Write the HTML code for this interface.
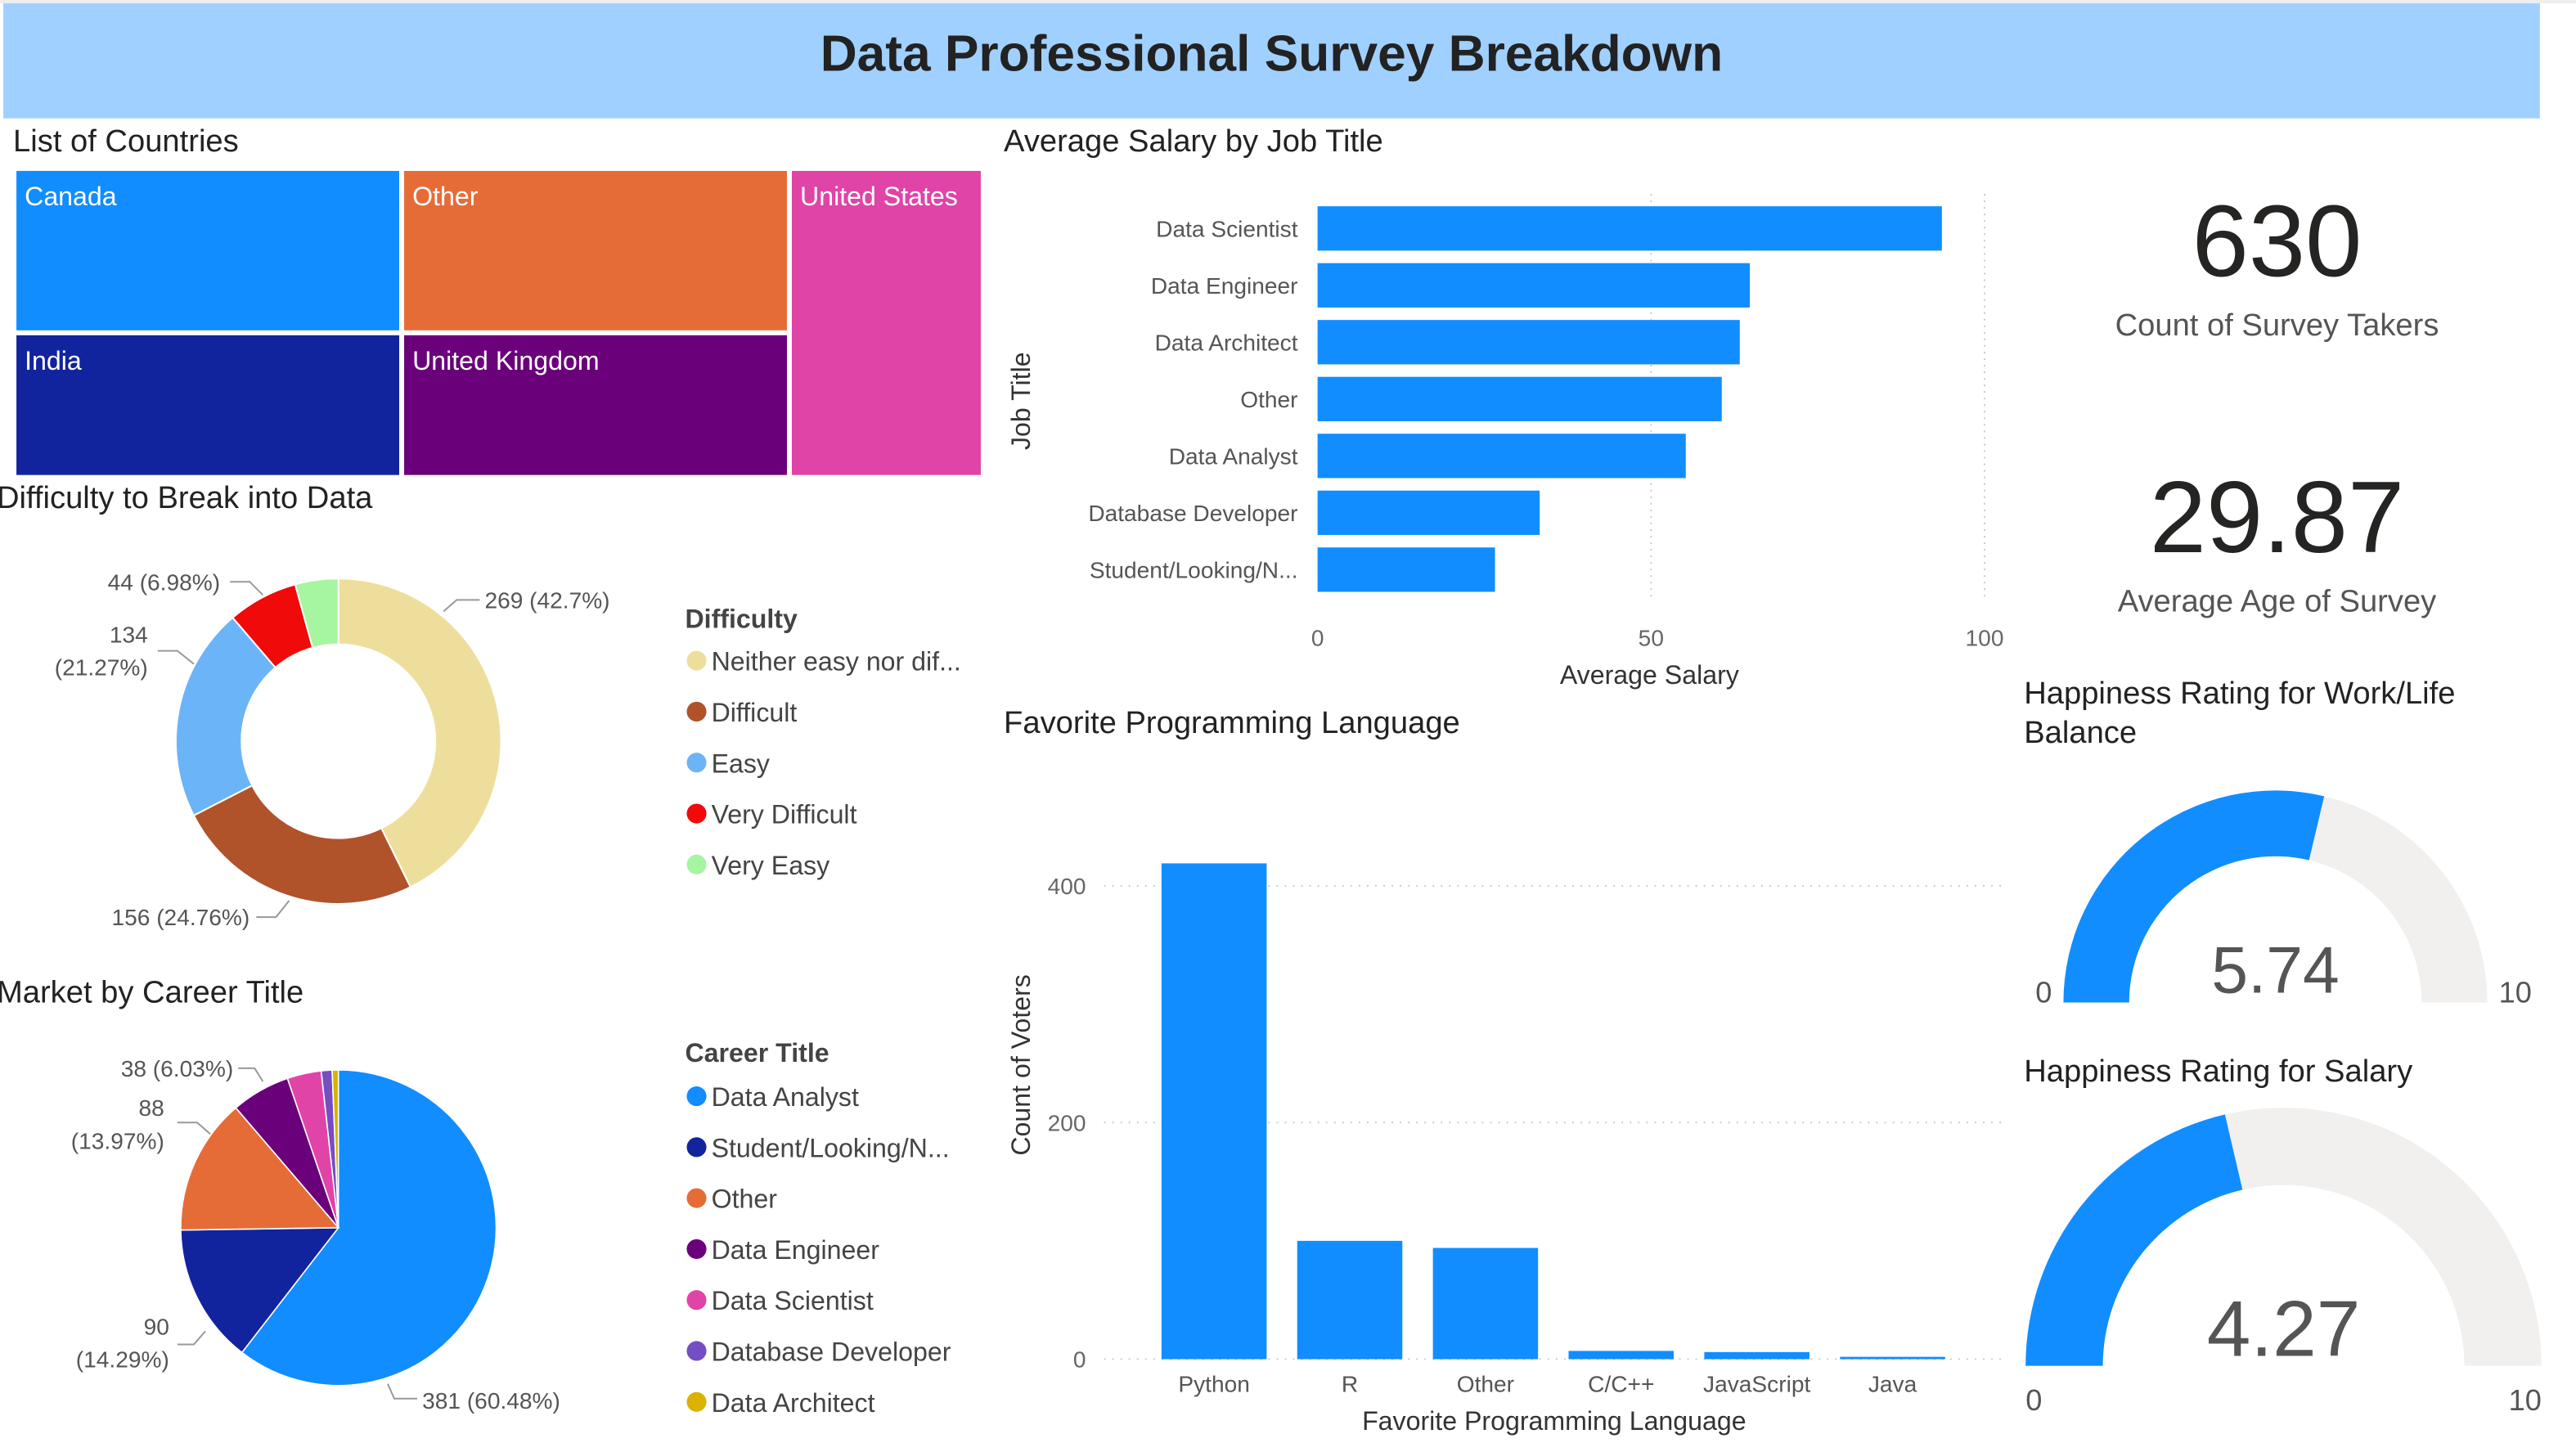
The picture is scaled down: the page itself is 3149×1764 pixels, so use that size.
<!DOCTYPE html>
<html><head><meta charset="utf-8"><style>
html,body{margin:0;padding:0;background:#fff;}
svg{display:block;font-family:"Liberation Sans",sans-serif;}
</style></head><body>
<svg id="dash" width="3149" height="1764" viewBox="0 0 1568 878" preserveAspectRatio="none" xmlns="http://www.w3.org/2000/svg">
<rect x="0" y="0" width="1568" height="2" fill="#eee"/>
<rect x="2" y="2" width="1544" height="70" fill="#a0d0ff"/>
<text x="774" y="43" text-anchor="middle" font-size="31" font-weight="bold" fill="#222">Data Professional Survey Breakdown</text>

<text x="8" y="92" font-size="19" fill="#222">List of Countries</text>
<g id="treemap"></g>

<text x="-2" y="309" font-size="19" fill="#222">Difficulty to Break into Data</text>
<g id="donut"></g>
<g id="donutLegend"></g>

<text x="-2" y="610" font-size="19" fill="#222">Market by Career Title</text>
<g id="pie"></g>
<g id="pieLegend"></g>

<text x="611" y="92" font-size="19" fill="#222">Average Salary by Job Title</text>
<g id="bars"></g>

<text x="611" y="446" font-size="19" fill="#222">Favorite Programming Language</text>
<g id="cols"></g>

<text x="1386" y="168" text-anchor="middle" font-size="62" fill="#252423">630</text>
<text x="1386" y="204" text-anchor="middle" font-size="19" fill="#555">Count of Survey Takers</text>
<text x="1386" y="336" text-anchor="middle" font-size="62" fill="#252423">29.87</text>
<text x="1386" y="372" text-anchor="middle" font-size="19" fill="#555">Average Age of Survey</text>

<text x="1232" y="428" font-size="19" fill="#222">Happiness Rating for Work/Life</text>
<text x="1232" y="452" font-size="19" fill="#222">Balance</text>
<g id="g1"></g>
<text x="1232" y="658" font-size="19" fill="#222">Happiness Rating for Salary</text>
<g id="g2"></g>
</svg>
<script>
const NS="http://www.w3.org/2000/svg";
function mk(tag,attrs,parent,txt){const e=document.createElementNS(NS,tag);for(const k in attrs)e.setAttribute(k,attrs[k]);if(txt!==undefined)e.textContent=txt;parent.appendChild(e);return e;}

// ---- treemap data
const countries=["Canada","Other","United States","India","United Kingdom"];
const countryColors=["#118DFF","#E66C37","#E044A7","#12239E","#6B007B"];
const tmRects=[[10,104,233,97],[246,104,233,97],[482,104,115,185],[10,204,233,85],[246,204,233,85]];
const tm=document.getElementById('treemap');
countries.forEach((c,i)=>{const r=tmRects[i];
 const el=mk('rect',{x:r[0],y:r[1],width:r[2],height:r[3],fill:countryColors[i]},tm);
 
 
 const t=mk('text',{x:r[0]+5,y:r[1]+21,'font-size':16,fill:'#fff'},tm,c);
 
 
});

function arc(cx,cy,ro,ri,a0,a1){ // angles in radians, 0=top clockwise
 const p=(r,a)=>[cx+r*Math.sin(a),cy-r*Math.cos(a)];
 const lg=(a1-a0)>Math.PI?1:0;
 const o0=p(ro,a0),o1=p(ro,a1);
 if(ri<=0){return `M${cx},${cy}L${o0}A${ro},${ro} 0 ${lg} 1 ${o1}Z`;}
 const i0=p(ri,a0),i1=p(ri,a1);
 return `M${o0}A${ro},${ro} 0 ${lg} 1 ${o1}L${i1}A${ri},${ri} 0 ${lg} 0 ${i0}Z`;
}

// ---- donut
const diffCats=["Neither easy nor dif...","Difficult","Easy","Very Difficult","Very Easy"];
const diffVals=[269,156,134,44,27];
const diffLabels=["269 (42.7%)","156 (24.76%)","134\n(21.27%)","44 (6.98%)",""];
const diffColors=["#EDDF9B","#B0522A","#6CB4F8","#F00A0A","#A6F5A0"];
(function(){const g=document.getElementById('donut');const tot=diffVals.reduce((a,b)=>a+b,0);let a=0;
 diffVals.forEach((v,i)=>{const a1=a+v/tot*2*Math.PI;
  const p=mk('path',{d:arc(206,451,99,59,a,a1),fill:diffColors[i],stroke:'#fff','stroke-width':1},g);
  
  
  a=a1;});
 const lbl=[[295,370,'start',0],[152,563,'end',1],[90,391,'end',2],[134,359,'end',3]];
 lbl.forEach(l=>{const lines=diffLabels[l[3]].split('\n');lines.forEach((s,k)=>{const t=mk('text',{x:l[0],y:l[1]+k*20,'text-anchor':l[2],'font-size':14,fill:'#555'},g,s);
  
  });});
 mk('path',{d:'M270,372 L278,365 L292,365',stroke:'#999',fill:'none'},g);
 mk('path',{d:'M140,354 L152,354 L160,362',stroke:'#999',fill:'none'},g);
 mk('path',{d:'M96,396 L108,396 L118,404',stroke:'#999',fill:'none'},g);
 mk('path',{d:'M156,558 L168,558 L176,548',stroke:'#999',fill:'none'},g);
 const lg=document.getElementById('donutLegend');
 const h=mk('text',{x:417,y:382,'font-size':16,'font-weight':'bold',fill:'#444'},lg,'Difficulty');
 
 diffCats.forEach((c,i)=>{mk('circle',{cx:424,cy:402+i*31,r:6,fill:diffColors[i]},lg);
  const t=mk('text',{x:433,y:408+i*31,'font-size':16,fill:'#444'},lg,c);
  });
})();

// ---- pie
const careerCats=["Data Analyst","Student/Looking/N...","Other","Data Engineer","Data Scientist","Database Developer","Data Architect"];
const careerVals=[381,90,88,38,22,7,4];
const careerColors=["#118DFF","#12239E","#E66C37","#6B007B","#E044A7","#744EC2","#D9B300"];
(function(){const g=document.getElementById('pie');const tot=careerVals.reduce((a,b)=>a+b,0);let a=0;
 careerVals.forEach((v,i)=>{const a1=a+v/tot*2*Math.PI;
  const p=mk('path',{d:arc(206,747,96,0,a,a1),fill:careerColors[i],stroke:'#fff','stroke-width':0.8},g);
  
  
  a=a1;});
 const L=[[257,857,'start',"381 (60.48%)"],[103,812,'end',"90"],[103,832,'end',"(14.29%)"],[100,679,'end',"88"],[100,699,'end',"(13.97%)"],[142,655,'end',"38 (6.03%)"]];
 L.forEach(l=>{const t=mk('text',{x:l[0],y:l[1],'text-anchor':l[2],'font-size':14,fill:'#555'},g,l[3]);
  });
 mk('path',{d:'M236,842 L240,851 L254,851',stroke:'#999',fill:'none'},g);
 mk('path',{d:'M108,683 L120,683 L128,690',stroke:'#999',fill:'none'},g);
 mk('path',{d:'M145,650 L155,650 L160,658',stroke:'#999',fill:'none'},g);
 mk('path',{d:'M108,818 L118,818 L125,810',stroke:'#999',fill:'none'},g);
 const lg=document.getElementById('pieLegend');
 const h=mk('text',{x:417,y:646,'font-size':16,'font-weight':'bold',fill:'#444'},lg,'Career Title');
 
 careerCats.forEach((c,i)=>{mk('circle',{cx:424,cy:667+i*31,r:6,fill:careerColors[i]},lg);
  const t=mk('text',{x:433,y:673+i*31,'font-size':16,fill:'#444'},lg,c);
  });
})();

// ---- salary bars
const jobTitles=["Data Scientist","Data Engineer","Data Architect","Other","Data Analyst","Database Developer","Student/Looking/N..."];
const salaryVals=[93.6,64.8,63.3,60.6,55.2,33.3,26.6];
const salaryTicks=[0,50,100];
(function(){const g=document.getElementById('bars');
 const x=v=>802+v*4.06, y=i=>139+i*34.6;
 salaryTicks.forEach(t=>{if(t>0)mk('line',{x1:x(t),x2:x(t),y1:118,y2:365,stroke:'#ccc','stroke-dasharray':'1,3'},g);
  const tx=mk('text',{x:x(t),y:393,'text-anchor':'middle','font-size':14,fill:'#666'},g,String(t));
  });
 jobTitles.forEach((c,i)=>{const r=mk('rect',{x:802,y:y(i)-13.5,width:x(salaryVals[i])-802,height:27,fill:'#118DFF'},g);
  
  const t=mk('text',{x:790,y:y(i)+5,'text-anchor':'end','font-size':14,fill:'#555'},g,c);
  });
 const xt=mk('text',{x:1004,y:416,'text-anchor':'middle','font-size':16,fill:'#333'},g,'Average Salary');
 
 const yt=mk('text',{x:0,y:0,transform:'translate(627,244) rotate(-90)','text-anchor':'middle','font-size':16,fill:'#333'},g,'Job Title');
 
})();

// ---- language columns
const langs=["Python","R","Other","C/C++","JavaScript","Java"];
const langVals=[419,100,94,7,6,2];
const langTicks=[0,200,400];
(function(){const g=document.getElementById('cols');
 const y=v=>827-v*0.72, x=i=>739+i*82.6;
 langTicks.forEach(t=>{mk('line',{x1:672,x2:1218,y1:y(t),y2:y(t),stroke:'#ccc','stroke-dasharray':'1,4'},g);
  const tx=mk('text',{x:661,y:y(t)+5,'text-anchor':'end','font-size':14,fill:'#666'},g,String(t));
  });
 langs.forEach((c,i)=>{const r=mk('rect',{x:x(i)-32,y:y(langVals[i]),width:64,height:827-y(langVals[i]),fill:'#118DFF'},g);
  
  const t=mk('text',{x:x(i),y:847,'text-anchor':'middle','font-size':14,fill:'#555'},g,c);
  });
 const xt=mk('text',{x:946,y:870,'text-anchor':'middle','font-size':16,fill:'#333'},g,'Favorite Programming Language');
 
 const yt=mk('text',{x:0,y:0,transform:'translate(627,648) rotate(-90)','text-anchor':'middle','font-size':16,fill:'#333'},g,'Count of Voters');
 
})();

// ---- gauges
const gaugeVals=[5.74,4.27];
const gaugeMax=[10,10];
function gauge(id,cx,cy,ro,ri,v,max,fs,minX,maxX,labY){const g=document.getElementById(id);
 const a0=-Math.PI/2,a1=a0+Math.PI*(v/max);
 mk('path',{d:arc(cx,cy,ro,ri,a0,Math.PI/2),fill:'#F1F0EF'},g);
 const p=mk('path',{d:arc(cx,cy,ro,ri,a0,a1),fill:'#118DFF'},g);
 
 const t=mk('text',{x:cx,y:cy-6,'text-anchor':'middle','font-size':fs,fill:'#555'},g,v.toFixed(2));
 
 const t0=mk('text',{x:minX,y:labY,'text-anchor':'middle','font-size':18,fill:'#555'},g,'0');
 
 const t1=mk('text',{x:maxX,y:labY,'text-anchor':'middle','font-size':18,fill:'#555'},g,String(max));
 
}
gauge('g1',1385,610,129,89,gaugeVals[0],gaugeMax[0],40,1244,1531,610);
gauge('g2',1390,831,157,110,gaugeVals[1],gaugeMax[1],48,1238,1537,858);
</script>
</body></html>
